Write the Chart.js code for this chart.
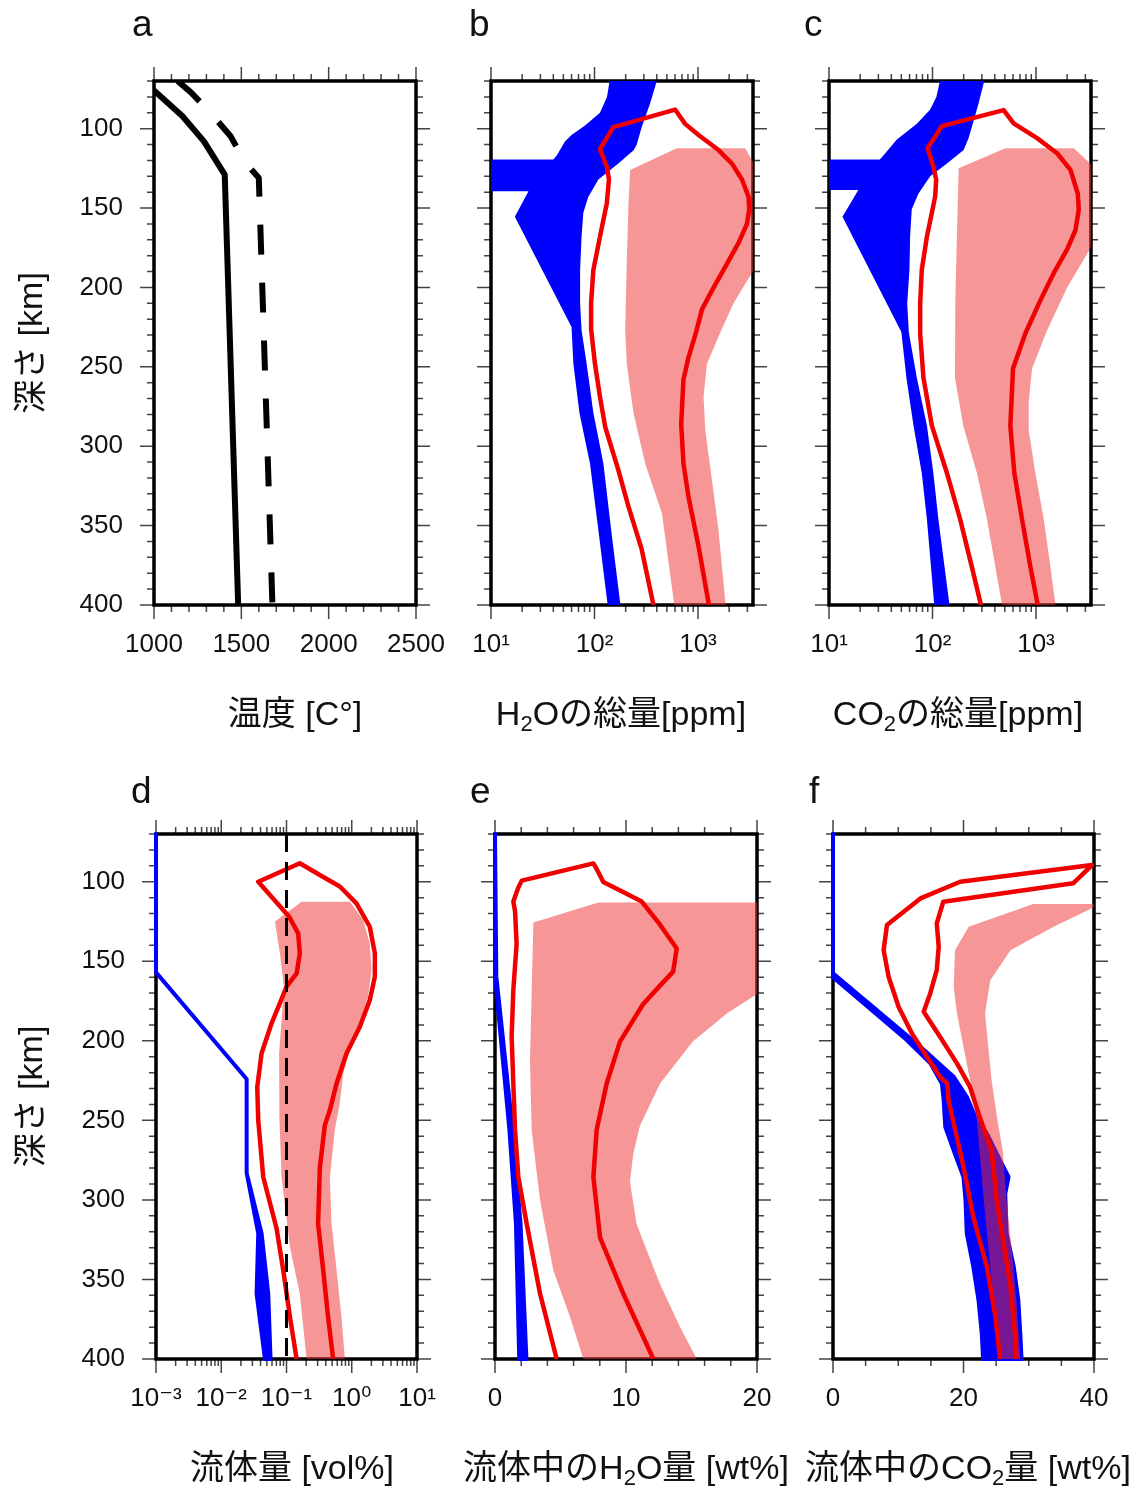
<!DOCTYPE html>
<html>
<head>
<meta charset="utf-8">
<script src="https://cdn.jsdelivr.net/npm/chart.js@4.4.1/dist/chart.umd.min.js"></script>
<style>
  body { margin: 0; background: #fff; }
  #wrap { position: relative; width: 1141px; height: 1488px; overflow: hidden; }
  canvas { position: absolute; }
  .tag { position: absolute; font: 37px 'Liberation Sans', Arial, sans-serif; line-height: 37px; color: #111; }
  .xt { position: absolute; width: 400px; text-align: center; white-space: nowrap;
        font: 34px 'Liberation Sans', 'Noto Sans CJK JP', sans-serif; line-height: 40px; color: #111; }
  .xt sub { font-size: 22px; vertical-align: -6px; line-height: 0; }
</style>
</head>
<body>
<div id="wrap">
  <canvas id="ca" width="460" height="750" style="left:0;top:0"></canvas>
  <canvas id="cb" width="340" height="750" style="left:460px;top:0"></canvas>
  <canvas id="cc" width="341" height="750" style="left:800px;top:0"></canvas>
  <canvas id="cd" width="460" height="738" style="left:0;top:750px"></canvas>
  <canvas id="ce" width="340" height="738" style="left:460px;top:750px"></canvas>
  <canvas id="cf" width="341" height="738" style="left:800px;top:750px"></canvas>

  <div class="tag" style="left:132px;top:5px">a</div>
  <div class="tag" style="left:469px;top:5px">b</div>
  <div class="tag" style="left:804px;top:5px">c</div>
  <div class="tag" style="left:131px;top:772px">d</div>
  <div class="tag" style="left:470px;top:772px">e</div>
  <div class="tag" style="left:809px;top:772px">f</div>

  <div class="xt" style="left:95px;top:693px">温度 [C°]</div>
  <div class="xt" style="left:421px;top:693px">H<sub>2</sub>Oの総量[ppm]</div>
  <div class="xt" style="left:758px;top:693px">CO<sub>2</sub>の総量[ppm]</div>
  <div class="xt" style="left:92px;top:1447px">流体量 [vol%]</div>
  <div class="xt" style="left:426px;top:1447px">流体中のH<sub>2</sub>O量 [wt%]</div>
  <div class="xt" style="left:768px;top:1447px">流体中のCO<sub>2</sub>量 [wt%]</div>
</div>

<script>
// depth axis (km), shared by all six panels
const depthMin = 70, depthMax = 400;
const depthLabels = [100, 150, 200, 250, 300, 350, 400];

// a: temperature profiles
const aTicks = [1000, 1500, 2000, 2500];
const aTickLabels = ['1000', '1500', '2000', '2500'];
const aSolidDepth = [76, 92, 108, 129, 400];
const aSolidTemp = [1000, 1162, 1286, 1405, 1482];
const aDashDepth = [70, 77, 89, 105, 121, 131, 400];
const aDashTemp = [1135, 1210, 1315, 1440, 1520, 1600, 1678];

// b: total H2O (ppm)
const ppmTicks = [10, 100, 1000];
const ppmTickLabels = ['10¹', '10²', '10³'];
const bBlueLeftDepth = [70, 80, 90, 98, 104, 108, 117, 119.5, 119.5, 139.5, 139.5, 155.5, 225, 248, 279, 311, 353, 400];
const bBlueLeft = [140, 132, 113, 81, 60, 52, 43, 40, 9, 9, 23, 17, 60, 62.5, 71.5, 90.5, 109, 134];
const bBlueRightDepth = [70, 84, 99, 110, 113.5, 122, 132, 143, 153, 168, 189, 210, 227, 248, 279, 311, 353, 400];
const bBlueRight = [400, 345, 286, 256, 240, 170, 109, 87, 78, 75, 72.6, 72.6, 75, 84, 97.5, 122, 145, 178];
const bRedLeftDepth = [400, 365, 338, 315, 288, 269, 248, 227, 210, 189, 168, 147, 132, 124, 113, 99, 88];
const bRedLeft = [371, 286, 213, 170, 127, 113, 101, 93, 92.7, 97.5, 113, 131.5, 138, 131.5, 113, 152, 601];
const bRedRightDepth = [88, 97, 104, 113.5, 122, 132, 143, 151, 160, 172, 187, 202, 214, 228, 244, 258, 286, 311, 332, 363, 400];
const bRedRight = [601, 751, 1012, 1578, 2128, 2660, 3080, 3126, 2970, 2467, 1833, 1362, 1091, 960, 810, 724, 688, 724, 810, 1012, 1275];
const bPinkLeftDepth = [112.3, 126, 147, 189, 227, 248, 279, 311, 342, 400];
const bPinkLeft = [625, 221, 213, 204, 198, 205, 238, 309, 448, 590];
const bPinkRightDepth = [112.3, 124, 187, 210, 228, 248, 269, 290, 321, 353, 400];
const bPinkRight = [2860, 3600, 3600, 2206, 1650, 1220, 1132, 1175, 1362, 1578, 1850];

// c: total CO2 (ppm)
const cBlueLeftDepth = [70, 80, 88, 97, 107, 114.5, 119.5, 119.5, 138.7, 138.7, 155.5, 228, 257, 287, 317, 346, 400];
const cBlueLeft = [118, 109, 95, 70.6, 45, 36, 31, 9, 9, 19.2, 13.5, 50, 56, 65.5, 78.8, 88.3, 104];
const cBlueRightDepth = [70, 84, 99, 106, 113.4, 122, 130, 141, 151, 168, 189, 210, 228, 257, 287, 317, 346, 400];
const cBlueRight = [316, 279, 240, 223, 200, 138, 95, 73, 63, 60.8, 59.9, 57, 59, 70.6, 88.3, 102, 114, 146];
const cRedLeftDepth = [400, 376, 346, 317, 287, 257, 229, 210, 189, 168, 153, 143, 132, 124, 112.3, 98.4, 88.3];
const cRedLeft = [294, 240, 185, 138, 98.6, 81.8, 76, 76, 78.8, 88.3, 98.6, 106, 108.6, 102, 89.6, 123, 487];
const cRedRightDepth = [88.3, 96.7, 106, 115.5, 126, 141, 151, 164, 176, 191, 208, 229, 251, 287, 317, 346, 376, 400];
const cRedRight = [487, 608, 1024, 1599, 2153, 2535, 2590, 2404, 2000, 1483, 1104, 789, 600, 565, 618, 733, 883, 1040];
const cPinkLeftDepth = [112.3, 125, 168, 210, 229, 257, 287, 317, 346, 376, 400];
const cPinkLeft = [506, 179, 172, 166, 165, 165, 198, 269, 336, 405, 470];
const cPinkRightDepth = [112.3, 124, 172, 200, 227, 251, 272, 290, 317, 346, 376, 400];
const cPinkRight = [2317, 3600, 3600, 2000, 1280, 916, 851, 851, 986, 1189, 1380, 1542];

// d: fluid amount (vol%)
const volTicks = [0.001, 0.01, 0.1, 1, 10];
const volTickLabels = ['10⁻³', '10⁻²', '10⁻¹', '10⁰', '10¹'];
const dBlueDepth = [70, 157, 224, 283, 321, 359, 400];
const dBlueLeft = [0.001, 0.001, 0.0245, 0.0245, 0.0369, 0.0348, 0.0467];
const dBlueRight = [0.001, 0.001, 0.0245, 0.0245, 0.0415, 0.0525, 0.057];
const dRedLeftDepth = [400, 373.6, 344, 318, 285.6, 250, 229, 208, 189, 176.5, 166, 157.6, 145, 132.5, 122, 100, 88.4];
const dRedLeft = [0.143, 0.113, 0.089, 0.0705, 0.044, 0.0369, 0.0356, 0.0415, 0.059, 0.079, 0.1, 0.143, 0.16, 0.151, 0.11, 0.0369, 0.16];
const dRedRightDepth = [88.4, 95.8, 103, 113.6, 128.3, 145, 159.7, 174.4, 191.2, 208, 226.8, 243.6, 253, 280, 315, 344, 374, 400];
const dRedRight = [0.16, 0.324, 0.657, 1.18, 1.89, 2.26, 2.26, 1.89, 1.33, 0.83, 0.585, 0.462, 0.387, 0.324, 0.305, 0.365, 0.435, 0.519];
const dPinkLeftDepth = [112.6, 125, 145, 166, 187, 208, 229, 250, 285.6, 329.6, 359, 400];
const dPinkLeft = [0.17, 0.0664, 0.0792, 0.0912, 0.084, 0.077, 0.077, 0.079, 0.084, 0.113, 0.16, 0.203];
const dPinkRightDepth = [112.6, 124, 139, 155.5, 172, 189, 206, 220.5, 239, 256, 285.6, 315, 344, 374, 400];
const dPinkRight = [0.936, 1.5, 1.89, 2.01, 1.78, 1.33, 0.936, 0.74, 0.657, 0.55, 0.462, 0.49, 0.585, 0.698, 0.784];
const dDashDepth = [70, 400];
const dDashVal = [0.1, 0.1];

// e: H2O in fluid (wt%)
const eTicks = [0, 10, 20];
const eTickLabels = ['0', '10', '20'];
const eBlueDepth = [70, 159.5, 256, 315, 400];
const eBlueLeft = [0, 0, 1.1, 1.6, 1.85];
const eBlueRight = [0, 0.1, 1.35, 1.95, 2.4];
const eRedLeftDepth = [400, 359, 315, 285.6, 256, 227, 197.6, 168, 139, 118.4, 112.5, 103.7, 99.3, 88.5];
const eRedLeft = [4.71, 3.44, 2.42, 1.78, 1.53, 1.4, 1.27, 1.4, 1.65, 1.53, 1.4, 1.78, 2.04, 7.51];
const eRedRightDepth = [88.5, 92, 100.2, 112.5, 127, 142, 156.5, 165.3, 177, 200.5, 227, 256, 285.6, 323.7, 359, 400];
const eRedRight = [7.51, 7.76, 8.27, 11.2, 12.6, 13.87, 13.6, 12.6, 11.3, 9.54, 8.52, 7.76, 7.51, 8.02, 9.8, 12.09];
const ePinkLeftDepth = [113.1, 125.7, 168.3, 212.3, 256.3, 300.2, 344.2, 373.6, 400];
const ePinkLeft = [7.89, 2.93, 2.8, 2.67, 2.8, 3.44, 4.45, 5.73, 6.74];
const ePinkRightDepth = [113.1, 165.3, 182.9, 200.5, 226.9, 253.3, 270.9, 288.5, 314.9, 323.7, 353, 379.4, 400];
const ePinkRight = [21, 21, 17.7, 15.1, 12.6, 11.07, 10.56, 10.3, 10.8, 11.2, 12.6, 14.1, 15.4];

// f: CO2 in fluid (wt%)
const fTicks = [0, 20, 40];
const fTickLabels = ['0', '20', '40'];
const fBlueLeftDepth = [70, 160, 199.5, 214, 227, 237, 254, 269, 285.6, 300, 321, 342, 363, 384, 400];
const fBlueLeft = [0, 0, 11.3, 14.9, 16.7, 16.95, 17.2, 18.5, 20, 20.3, 20.5, 21.5, 22.3, 22.8, 23];
const fBlueRightDepth = [70, 157.6, 203.7, 222.6, 235.2, 250, 258.3, 275, 285.6, 296, 321, 342, 363, 384, 400];
const fBlueRight = [0, 0, 13.4, 18.5, 20.5, 22.05, 23.6, 25.6, 26.9, 26.4, 26.6, 27.7, 28.4, 28.7, 28.9];
const fRedLeftDepth = [400, 373.7, 342.3, 310.7, 279.2, 237.3, 226.8, 222.6, 210, 195.4, 178.6, 159.7, 143, 127.2, 110.5, 100, 89.5];
const fRedLeft = [25.6, 24.9, 23.6, 21.5, 20, 17.7, 17.5, 16.4, 14.4, 12.1, 10.05, 8.52, 7.76, 8.27, 13.4, 19.5, 39.7];
const fRedRightDepth = [89.5, 101, 112.6, 126.2, 140.9, 155.5, 170.2, 181.7, 197.5, 214.2, 228.9, 245.7, 268.8, 300.3, 321.3, 352.8, 384.2, 400];
const fRedRight = [39.7, 36.8, 16.9, 15.9, 16.2, 15.9, 14.9, 13.9, 16.4, 19, 21, 22.3, 24.3, 25.1, 25.9, 27.15, 27.9, 28.1];
const fPinkLeftDepth = [114, 128.3, 143, 166, 182.9, 203.9, 224.7, 249.9, 300, 363, 400];
const fPinkLeft = [30.7, 20.8, 18.7, 18.5, 19, 20, 21, 22.05, 23.1, 24.6, 25.4];
const fPinkRightDepth = [114, 128.3, 143, 161.9, 182.9, 203.9, 224.7, 249.9, 268.8, 300, 332, 363, 400];
const fPinkRight = [41, 33.8, 27.2, 24.1, 23.3, 23.8, 24.3, 25.2, 26, 26.6, 27.4, 28.1, 28.7];

// colours
const BLUE = '#0000ff';
const RED = 'rgb(240,0,0)';
const PINK = 'rgba(240,45,45,0.5)';
const INK = '#111';

const tickFont = { family: "'Liberation Sans', 'DejaVu Sans', sans-serif", size: 26 };
const titleFont = { family: "'Liberation Sans', 'Noto Sans CJK JP', sans-serif", size: 34 };

// helpers to turn depth/value lists into points
const pts = (depth, vals) => depth.map((d, i) => ({ x: vals[i], y: d }));
const band = (dL, vL, dR, vR) => pts(dL, vL).concat(pts(dR, vR).reverse());
const outline = (dL, vL, dR, vR) => pts(dL, vL).concat(pts(dR, vR));

function line(data, color, width, dash) {
  return { data, borderColor: color, borderWidth: width, borderDash: dash || [], pointRadius: 0,
           fill: false, tension: 0, borderJoinStyle: 'round' };
}
function area(data, color, edge, edgeWidth, clip) {
  return { data, backgroundColor: color, borderColor: edge || 'rgba(0,0,0,0)', borderWidth: edgeWidth || 0,
           pointRadius: 0, fill: 'shape', tension: 0, borderJoinStyle: 'round', clip: clip || 0 };
}

// minor tick helpers
const depthMinor = [];
for (let d = depthMin; d <= depthMax; d += 10) if (d % 50) depthMinor.push(d);
function evenMinor(lo, hi, step, major) {
  const out = [];
  for (let v = lo; v <= hi + 1e-9; v += step) if (Math.abs(v / major - Math.round(v / major)) > 1e-6) out.push(v);
  return out;
}
function logMinor(lo, hi) {
  const out = [];
  for (let e = Math.floor(Math.log10(lo)); e <= Math.ceil(Math.log10(hi)); e++)
    for (let k = 2; k <= 9; k++) { const v = k * Math.pow(10, e); if (v > lo && v < hi) out.push(v); }
  return out;
}

// frame + outward ticks on all four sides
function frame(xMinor, xMajor) {
  return {
    id: 'frame',
    beforeDatasetsDraw(chart) {
      const { ctx, chartArea: a, scales: { x, y } } = chart;
      ctx.save();
      ctx.beginPath();
      const xt = (v, n) => { const p = x.getPixelForValue(v); ctx.moveTo(p, a.top); ctx.lineTo(p, a.top - n); ctx.moveTo(p, a.bottom); ctx.lineTo(p, a.bottom + n); };
      const yt = (v, n) => { const p = y.getPixelForValue(v); ctx.moveTo(a.left, p); ctx.lineTo(a.left - n, p); ctx.moveTo(a.right, p); ctx.lineTo(a.right + n, p); };
      xMinor.forEach(v => xt(v, 7));
      xMajor.forEach(v => xt(v, 14));
      depthMinor.forEach(v => yt(v, 7));
      depthLabels.forEach(v => yt(v, 14));
      ctx.strokeStyle = '#444';
      ctx.lineWidth = 1.5;
      ctx.stroke();
      ctx.strokeStyle = '#000';
      ctx.lineWidth = 3.5;
      ctx.strokeRect(a.left, a.top, a.right - a.left, a.bottom - a.top);
      ctx.restore();
    }
  };
}

function panel(id, cfg) {
  const cv = document.getElementById(id);
  const W = cv.width, H = cv.height;
  const [L, T, R, B] = cfg.box;
  return new Chart(cv, {
    type: 'line',
    data: { datasets: cfg.datasets },
    options: {
      responsive: false,
      animation: false,
      devicePixelRatio: 1,
      events: [],
      layout: { padding: { left: 0, top: T, right: W - R, bottom: 0 } },
      plugins: { legend: { display: false }, tooltip: { enabled: false } },
      scales: {
        x: {
          type: cfg.xType, min: cfg.xMin, max: cfg.xMax, bounds: 'data',
          // tick marks themselves are drawn by the frame plugin; tickLength only sets the label gap
          grid: { display: false, drawTicks: true, tickLength: 24 }, border: { display: false },
          afterBuildTicks: s => { s.ticks = cfg.xTicks.map(v => ({ value: v })); },
          afterFit: s => { s.height = H - B; },
          ticks: { font: tickFont, color: INK, padding: 0, autoSkip: false, maxRotation: 0,
                   callback: (v, i) => cfg.xLabels[i] }
        },
        y: {
          type: 'linear', reverse: true, min: depthMin, max: depthMax, bounds: 'data',
          grid: { display: false, drawTicks: false }, border: { display: false },
          afterBuildTicks: s => { s.ticks = depthLabels.map(v => ({ value: v })); },
          afterFit: s => { s.width = L; },
          ticks: { display: cfg.yLabels, font: tickFont, color: INK, padding: 31, autoSkip: false },
          title: { display: cfg.yLabels, text: '深さ [km]', font: titleFont, color: INK,
                   padding: { top: 12, bottom: 0 } }
        }
      }
    },
    plugins: [frame(cfg.xMinor, cfg.xMajor)]
  });
}

const ppmMax = 3400;

panel('ca', {
  box: [154, 81, 416, 605], yLabels: true,
  xType: 'linear', xMin: 1000, xMax: 2500, xTicks: aTicks, xLabels: aTickLabels,
  xMajor: aTicks, xMinor: evenMinor(1000, 2500, 100, 500),
  datasets: [
    line(pts(aSolidDepth, aSolidTemp), '#000', 6),
    line(pts(aDashDepth, aDashTemp), '#000', 6, [30, 28])
  ]
});

panel('cb', {
  box: [31, 81, 293, 605], yLabels: false,
  xType: 'logarithmic', xMin: 10, xMax: ppmMax, xTicks: ppmTicks, xLabels: ppmTickLabels,
  xMajor: ppmTicks, xMinor: logMinor(10, ppmMax),
  datasets: [
    line(outline(bRedLeftDepth, bRedLeft, bRedRightDepth, bRedRight), RED, 4.5),
    area(band(bPinkLeftDepth, bPinkLeft, bPinkRightDepth, bPinkRight), PINK),
    area(band(bBlueLeftDepth, bBlueLeft, bBlueRightDepth, bBlueRight), BLUE)
  ]
});

panel('cc', {
  box: [29, 81, 291, 605], yLabels: false,
  xType: 'logarithmic', xMin: 10, xMax: ppmMax, xTicks: ppmTicks, xLabels: ppmTickLabels,
  xMajor: ppmTicks, xMinor: logMinor(10, ppmMax),
  datasets: [
    line(outline(cRedLeftDepth, cRedLeft, cRedRightDepth, cRedRight), RED, 4.5),
    area(band(cPinkLeftDepth, cPinkLeft, cPinkRightDepth, cPinkRight), PINK),
    area(band(cBlueLeftDepth, cBlueLeft, cBlueRightDepth, cBlueRight), BLUE)
  ]
});

panel('cd', {
  box: [156, 84, 417, 609], yLabels: true,
  xType: 'logarithmic', xMin: 0.001, xMax: 10, xTicks: volTicks, xLabels: volTickLabels,
  xMajor: volTicks, xMinor: logMinor(0.001, 10),
  datasets: [
    line(pts(dDashDepth, dDashVal), '#000', 3, [18, 10]),
    line(outline(dRedLeftDepth, dRedLeft, dRedRightDepth, dRedRight), RED, 4.5),
    area(band(dPinkLeftDepth, dPinkLeft, dPinkRightDepth, dPinkRight), PINK),
    area(band(dBlueDepth, dBlueLeft, dBlueDepth, dBlueRight), BLUE, BLUE, 4, 3)
  ]
});

panel('ce', {
  box: [35, 84, 297, 609], yLabels: false,
  xType: 'linear', xMin: 0, xMax: 20, xTicks: eTicks, xLabels: eTickLabels,
  xMajor: eTicks, xMinor: evenMinor(0, 20, 2, 10),
  datasets: [
    line(outline(eRedLeftDepth, eRedLeft, eRedRightDepth, eRedRight), RED, 4.5),
    area(band(ePinkLeftDepth, ePinkLeft, ePinkRightDepth, ePinkRight), PINK),
    area(band(eBlueDepth, eBlueLeft, eBlueDepth, eBlueRight), BLUE, BLUE, 4, 3)
  ]
});

panel('cf', {
  box: [33, 84, 294, 609], yLabels: false,
  xType: 'linear', xMin: 0, xMax: 40, xTicks: fTicks, xLabels: fTickLabels,
  xMajor: fTicks, xMinor: evenMinor(0, 40, 5, 20),
  datasets: [
    line(outline(fRedLeftDepth, fRedLeft, fRedRightDepth, fRedRight), RED, 4.5),
    area(band(fPinkLeftDepth, fPinkLeft, fPinkRightDepth, fPinkRight), PINK),
    area(band(fBlueLeftDepth, fBlueLeft, fBlueRightDepth, fBlueRight), BLUE, BLUE, 4, 3)
  ]
});
</script>
</body>
</html>
